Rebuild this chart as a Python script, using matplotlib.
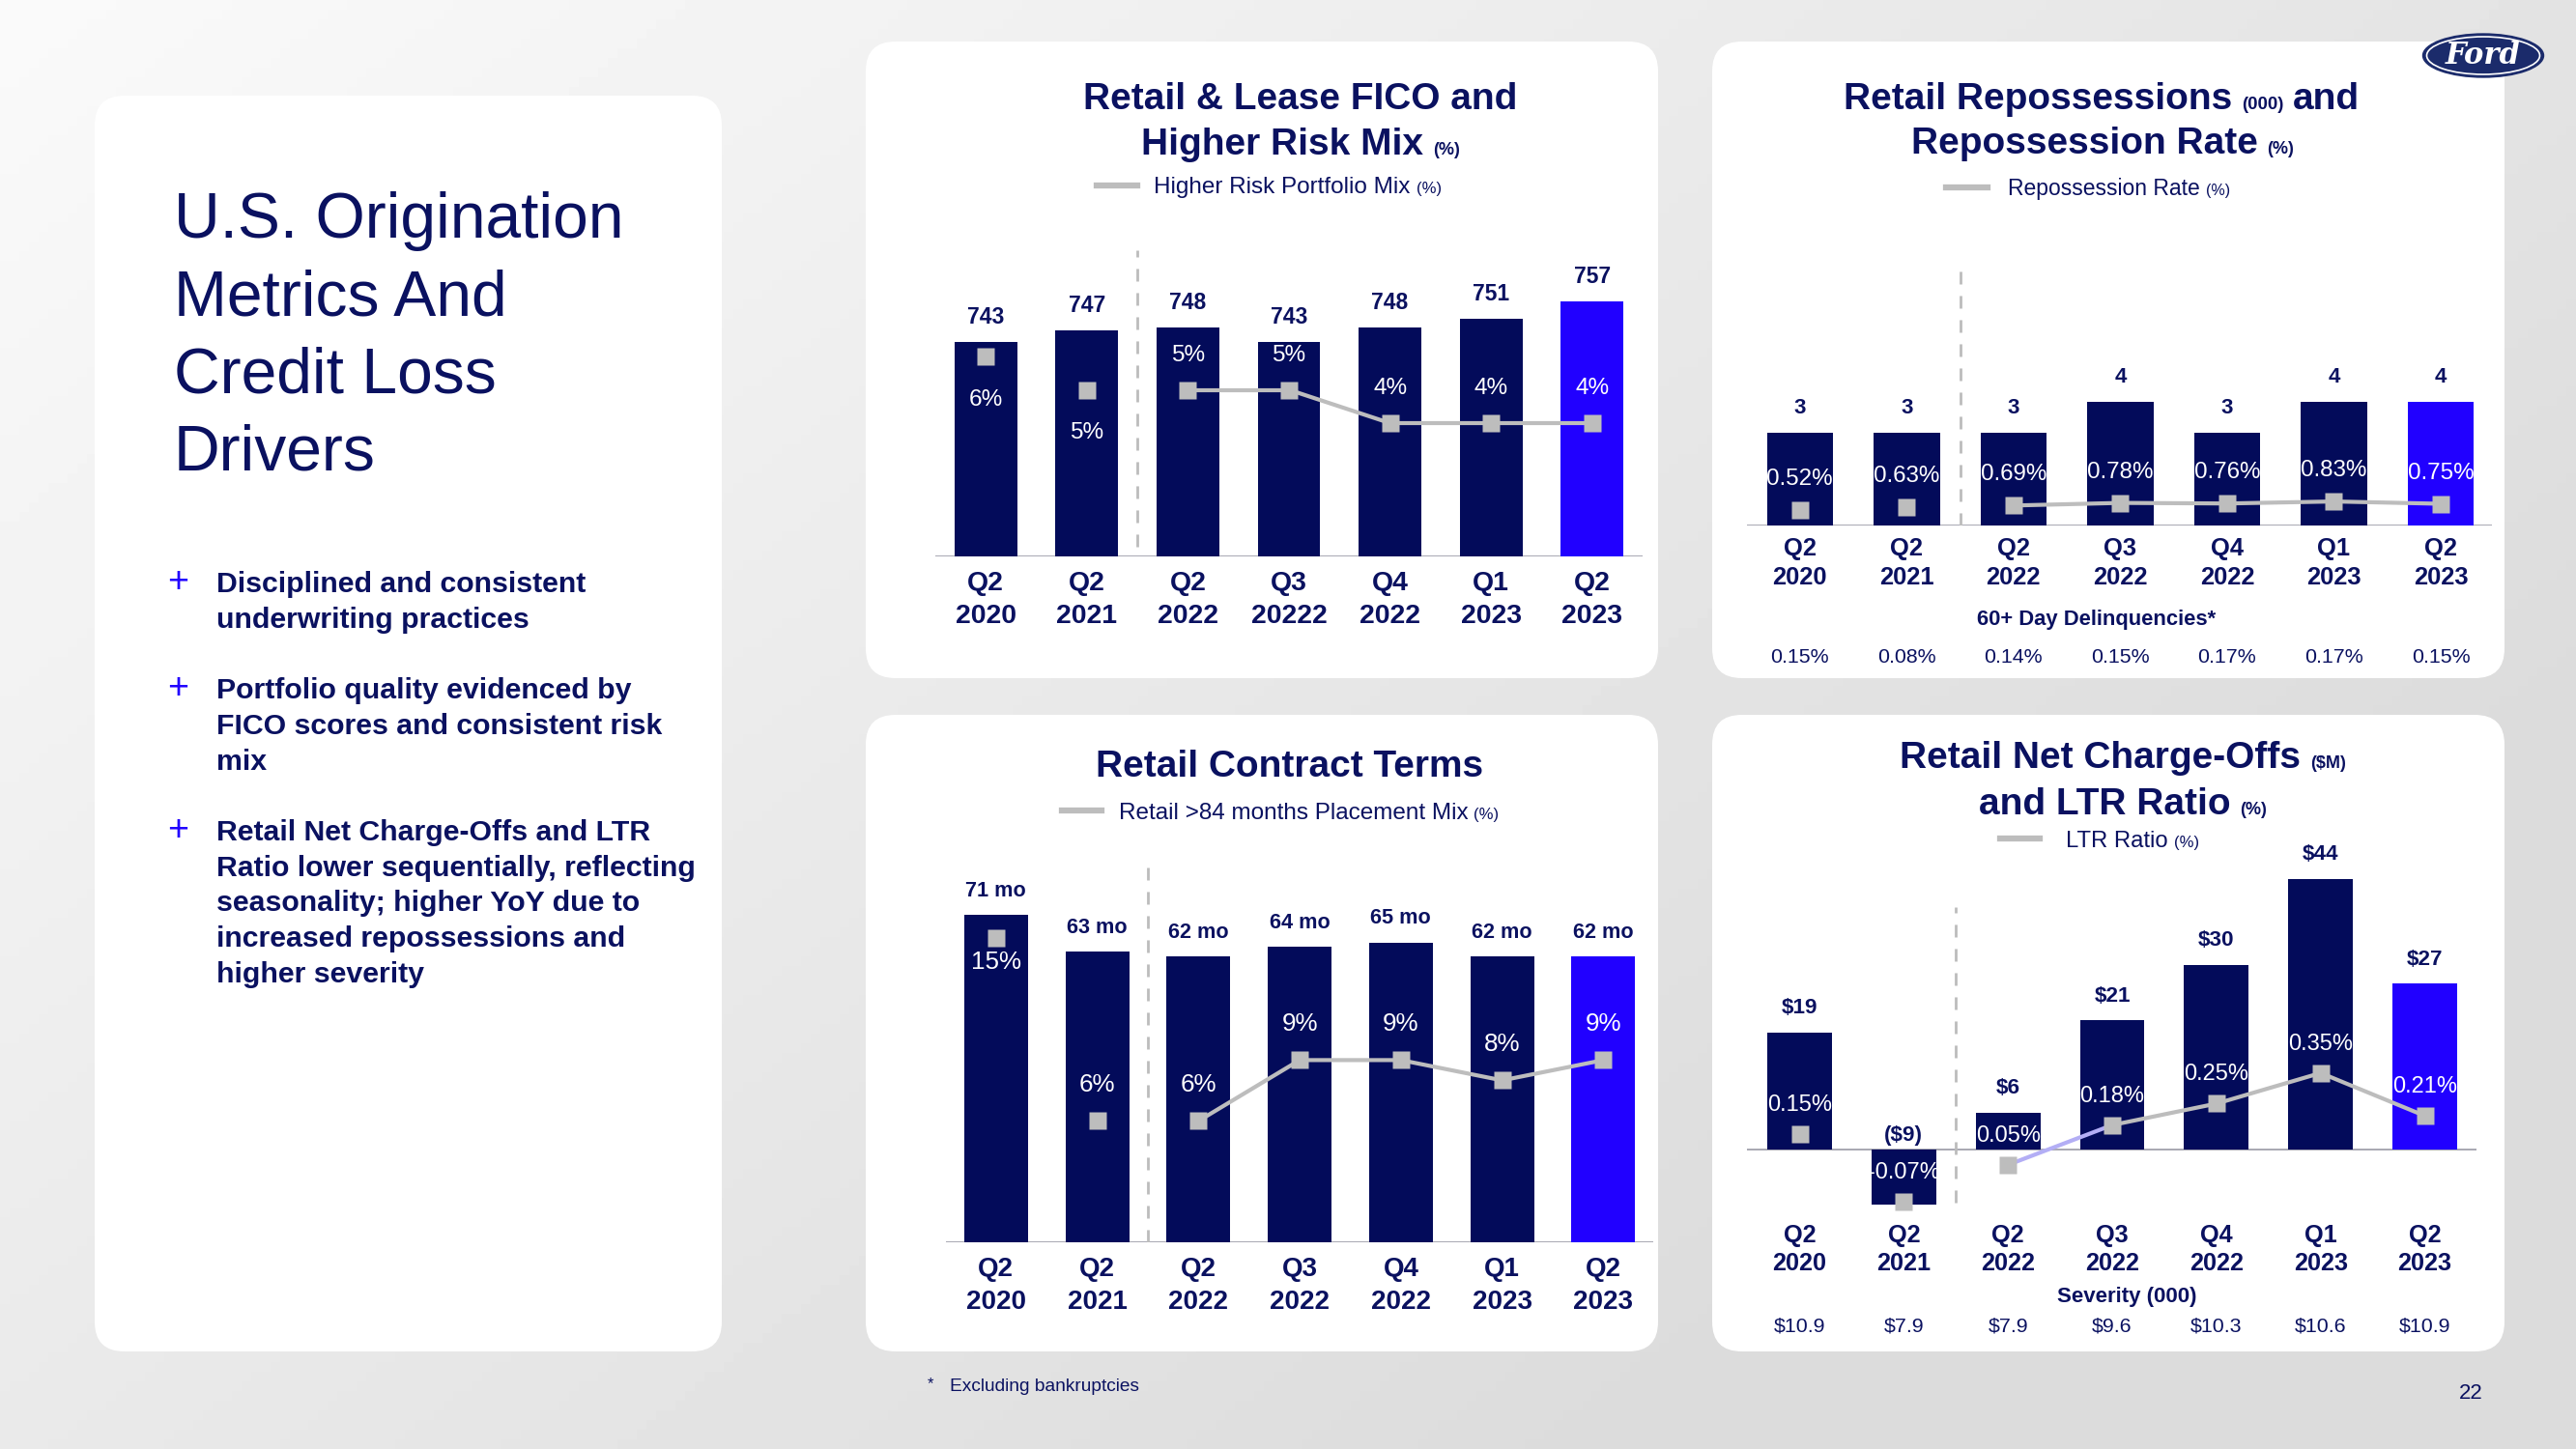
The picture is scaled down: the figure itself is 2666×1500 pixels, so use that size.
import matplotlib
matplotlib.use('Agg')
import matplotlib.pyplot as plt
import numpy as np
from matplotlib.patches import FancyBboxPatch, Ellipse
from matplotlib.lines import Line2D

plt.rcParams['font.family'] = ['Liberation Sans', 'DejaVu Sans']

W, H = 2666, 1500
PT = 0.72  # points per pixel at dpi 100
NAVY = '#030b5a'
TEXT = '#0a1160'
BLUE = '#2100ff'
GRAY = '#bdbdbd'
AXIS = '#9a9aa6'
LAVENDER = '#b3aef5'

# ---- data ----
quarters = ['Q2', 'Q2', 'Q2', 'Q3', 'Q4', 'Q1', 'Q2']
years = ['2020', '2021', '2022', '2022', '2022', '2023', '2023']
fico_years = ['2020', '2021', '2022', '20222', '2022', '2023', '2023']
fico = [743, 747, 748, 743, 748, 751, 757]
risk_mix = [6, 5, 5, 5, 4, 4, 4]
repos = [3, 3, 3, 4, 3, 4, 4]
repo_rate = [0.52, 0.63, 0.69, 0.78, 0.76, 0.83, 0.75]
delinq = [0.15, 0.08, 0.14, 0.15, 0.17, 0.17, 0.15]
term_months = [71, 63, 62, 64, 65, 62, 62]
over84_mix = [15, 6, 6, 9, 9, 8, 9]
charge_offs = [19, -9, 6, 21, 30, 44, 27]
ltr_ratio = [0.15, -0.07, 0.05, 0.18, 0.25, 0.35, 0.21]
severity = [10.9, 7.9, 7.9, 9.6, 10.3, 10.6, 10.9]

bar_colors = [NAVY] * 6 + [BLUE]
x = np.arange(len(quarters))

fig = plt.figure(figsize=(W / 100, H / 100), dpi=100)

# background gradient
bg = fig.add_axes([0, 0, 1, 1], zorder=-10)
gx, gy = np.meshgrid(np.linspace(0, 1, 267), np.linspace(0, 1, 150))
grad = 250 - 30 * np.clip(gx * 0.75 + gy * 0.55, 0, 1)
bg.imshow(grad, cmap='gray', vmin=0, vmax=255, extent=[0, 1, 0, 1], aspect='auto')
bg.axis('off')


def panel(x0, y0, x1, y1):
    p = FancyBboxPatch((x0 / W, 1 - y1 / H), (x1 - x0) / W, (y1 - y0) / H,
                       boxstyle='round,pad=0,rounding_size=0.0115',
                       transform=fig.transFigure, fc='white', ec='none', zorder=-5,
                       mutation_aspect=W / H)
    fig.add_artist(p)


panel(98, 99, 747, 1399)
panel(896, 43, 1716, 702)
panel(1772, 43, 2592, 702)
panel(896, 740, 1716, 1399)
panel(1772, 740, 2592, 1399)


def ftxt(px, py, s, **kw):
    kw.setdefault('color', TEXT)
    return fig.text(px / W, 1 - py / H, s, **kw)


renderer = fig.canvas.get_renderer()


def rich(px, py, parts, align='center', gap=10):
    ts = [ftxt(0, py, s, fontsize=fs, fontweight=fw, ha='left', va='baseline')
          for s, fs, fw in parts]
    ws = [t.get_window_extent(renderer).width for t in ts]
    total = sum(ws) + gap * (len(ws) - 1)
    x0 = px - total / 2 if align == 'center' else px
    for t, w in zip(ts, ws):
        t.set_x(x0 / W)
        x0 += w + gap


def legend_key(x0, x1, py):
    fig.add_artist(Line2D([x0 / W, x1 / W], [1 - py / H, 1 - py / H],
                          transform=fig.transFigure, color=GRAY, lw=4.5))


def setup(L, R, base, top, bot, xlim, yb, k, y2b, k2, dash):
    ax = fig.add_axes([L / W, 1 - bot / H, (R - L) / W, (bot - top) / H])
    ax.set_xlim(*xlim)
    ax.set_ylim(yb - (bot - base) / k, yb + (base - top) / k)
    ax.axis('off')
    ax2 = ax.twinx()
    ax2.set_ylim(y2b - (bot - base) / k2, y2b + (base - top) / k2)
    ax2.axis('off')
    ax.axhline(yb, color=AXIS, lw=1.2, zorder=1)
    ax.axvline(1.5, ymin=(bot - dash[1]) / (bot - top), ymax=(bot - dash[0]) / (bot - top),
               color='#bcbcbc', lw=2.0, ls=(0, (4.7, 4.3)), zorder=1)
    return ax


def note(ax, s, xy, dy_px, **kw):
    kw.setdefault('color', TEXT)
    ax.annotate(s, xy, xytext=(0, dy_px * PT), textcoords='offset points',
                ha='center', va='center', annotation_clip=False, **kw)


def draw(ax, vals, line, yb, bar_w, vfmt, vfs, lfmt, lfs, ldy, yrs, tfs, tdy):
    ax2 = fig.axes[-1]
    ax.bar(x, vals, width=bar_w, color=bar_colors, zorder=2)
    for i, v in enumerate(vals):
        if v >= 0:
            note(ax, vfmt(v), (i, v), 25, fontsize=vfs, fontweight='bold')
        else:
            note(ax, vfmt(v), (i, yb), 14, fontsize=vfs, fontweight='bold')
        note(ax, quarters[i], (i, yb), -tdy[0], fontsize=tfs, fontweight='bold')
        note(ax, yrs[i], (i, yb), -tdy[1], fontsize=tfs, fontweight='bold')
    ax2.plot(x[3:], line[3:], color=GRAY, lw=3, zorder=3)
    ax2.plot(x, line, 's', color=GRAY, ms=12.5, mec='none', zorder=4)
    for i, v in enumerate(line):
        note(ax2, lfmt(v), (i, v), ldy[i], fontsize=lfs, color='white', zorder=5)
    return ax2


# ---- chart 1: FICO ----
ax = setup(968, 1700, 576, 259, 576, (-0.5, 6.5), 669, 3.0, 0, 34.5, (259, 566))
ax2 = draw(ax, fico, risk_mix, 669, 0.62, lambda v: f'{v}', 16.5, lambda v: f'{v}%', 17.6,
           [-45, -45, 35, 35, 36, 36, 36], fico_years, 20.4, (28, 62))
ax2.plot(x[2:4], risk_mix[2:4], color=GRAY, lw=3, zorder=3)
rich(1346, 113, [('Retail & Lease FICO and', 28, 'bold')])
rich(1346, 160, [('Higher Risk Mix', 28, 'bold'), ('(%)', 13, 'bold')])
legend_key(1135, 1177, 191.5)
rich(1194.5, 200, [('Higher Risk Portfolio Mix', 17.5, 'normal'), ('(%)', 12, 'normal')],
     align='left', gap=6)

# ---- chart 2: repossessions ----
ax = setup(1807.5, 2579, 544, 278, 544, (-0.5, 6.48), 0, 32, 0, 30, (278, 544))
ax2 = draw(ax, repos, repo_rate, 0, 0.62, lambda v: f'{v}', 16, lambda v: f'{v:.2f}%', 17.4,
           [32] * 7, years, 18.4, (24, 54))
ax2.plot(x[2:4], repo_rate[2:4], color=GRAY, lw=3, zorder=3)
rich(2175, 113, [('Retail Repossessions', 28, 'bold'), ('(000)', 13.5, 'bold'), ('and', 28, 'bold')])
rich(2176, 159, [('Repossession Rate', 28, 'bold'), ('(%)', 13, 'bold')])
legend_key(2013.7, 2056.6, 193.6)
rich(2078, 202, [('Repossession Rate', 16.5, 'normal'), ('(%)', 11.5, 'normal')],
     align='left', gap=6)
ftxt(2170, 642, '60+ Day Delinquencies*', fontsize=15.8, fontweight='bold', ha='center', va='center')
for i, v in enumerate(delinq):
    note(ax, f'{v:.2f}%', (i, 0), -136, fontsize=15.4)

# ---- chart 3: contract terms ----
ax = setup(978.5, 1710.7, 1286.4, 898, 1286.4, (-0.5, 6.49), 0, 4.78, 0, 21, (898, 1286))
ax2 = draw(ax, term_months, over84_mix, 0, 0.63, lambda v: f'{v} mo', 15.6, lambda v: f'{v}%', 18.7,
           [-25, 37, 37, 37, 37, 37, 37], years, 20, (28, 62))
ax2.plot(x[2:4], over84_mix[2:4], color=GRAY, lw=3, zorder=3)
rich(1335, 804.5, [('Retail Contract Terms', 28, 'bold')])
legend_key(1098.7, 1139.5, 838.7)
rich(1157.8, 848, [('Retail >84 months Placement Mix', 17.5, 'normal'), ('(%)', 12, 'normal')],
     align='left', gap=6)

# ---- chart 4: net charge-offs ----
ax = setup(1807.5, 2563, 1190, 870, 1262, (-0.51, 6.495), 0, 6.37, 0.1, 317, (938.6, 1245))
ax2 = draw(ax, charge_offs, ltr_ratio, 0, 0.62,
           lambda v: f'${v}' if v >= 0 else f'(${-v})', 16.2, lambda v: f'{v:.2f}%', 17,
           [30] * 7, years, 18.2, (88.6, 118))
ax2.plot(x[2:4], ltr_ratio[2:4], color=LAVENDER, lw=3, zorder=3)
rich(2197, 795, [('Retail Net Charge-Offs', 28, 'bold'), ('($M)', 13, 'bold')])
rich(2197, 843, [('and LTR Ratio', 28, 'bold'), ('(%)', 13, 'bold')])
legend_key(2070, 2111, 868)
rich(2138.5, 877, [('LTR Ratio', 17.2, 'normal'), ('(%)', 12, 'normal')], align='left', gap=6)
ftxt(2201, 1342.8, 'Severity (000)', fontsize=16, fontweight='bold', ha='center', va='center')
for i, v in enumerate(severity):
    note(ax, f'${v:.1f}', (i, 0), -183, fontsize=15.4)

# ---- left panel ----
title_lines = ['U.S. Origination', 'Metrics And', 'Credit Loss', 'Drivers']
for j, s in enumerate(title_lines):
    ftxt(180, 246 + j * 80.3, s, fontsize=47.5, va='baseline', ha='left')

bullets = [
    ['Disciplined and consistent', 'underwriting practices'],
    ['Portfolio quality evidenced by', 'FICO scores and consistent risk', 'mix'],
    ['Retail Net Charge-Offs and LTR', 'Ratio lower sequentially, reflecting',
     'seasonality; higher YoY due to', 'increased repossessions and', 'higher severity'],
]
bullet_y = [613, 723.4, 870]
for b, y0 in zip(bullets, bullet_y):
    ftxt(184, y0, '+', fontsize=27, color=BLUE, ha='center', va='baseline')
    for j, s in enumerate(b):
        ftxt(224.4, y0 + j * 36.7, s, fontsize=21.8, fontweight='bold', ha='left', va='baseline')

# footnote, page number
ftxt(962.8, 1433, '*', fontsize=12, ha='center', va='center')
ftxt(982.6, 1435.6, 'Excluding bankruptcies', fontsize=13.8, ha='left', va='center')
ftxt(2557, 1443, '22', fontsize=16, ha='center', va='center')

# Ford oval
fig.add_artist(Ellipse((2570 / W, 1 - 57.5 / H), 125 / W, 45 / H, transform=fig.transFigure,
                       fc='#1b2b6b', ec='#1b2b6b', lw=1))
fig.add_artist(Ellipse((2570 / W, 1 - 57.5 / H), 117 / W, 39 / H, transform=fig.transFigure,
                       fc='none', ec='white', lw=1.2))
ftxt(2570, 58, 'Ford', fontsize=22, color='white', family='DejaVu Serif', style='italic',
     fontweight='bold', ha='center', va='center')

fig.savefig('out.png', dpi=100)
